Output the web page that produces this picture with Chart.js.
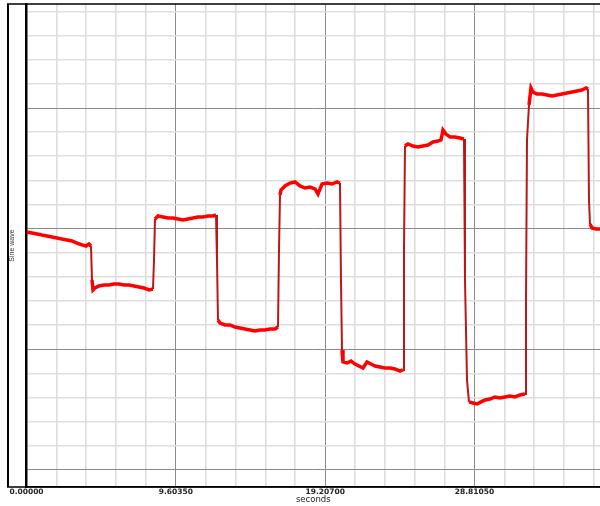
<!DOCTYPE html>
<html>
<head>
<meta charset="utf-8">
<script src="https://cdn.jsdelivr.net/npm/chart.js@4/dist/chart.umd.min.js"></script>
<style>
  html, body { margin: 0; padding: 0; background: #fff; }
  #wrap { width: 600px; height: 506px; position: relative; }
</style>
</head>
<body>
<div id="wrap"><canvas id="c"></canvas></div>
<script>
// ---- data ----
const seconds = [
  0, 0.354, 0.675, 0.997, 1.318, 1.640, 1.961, 2.283, 2.605, 2.926, 3.248, 3.569, 3.826, 4.019, 4.148,
  4.212, 4.277,
  4.405, 4.662, 4.984, 5.306, 5.627, 5.949, 6.270, 6.592, 6.913, 7.235, 7.556, 7.878, 8.135,
  8.200, 8.264,
  8.457, 8.778, 9.100, 9.421, 9.743, 10.065, 10.386, 10.708, 11.029, 11.351, 11.672, 11.994, 12.187,
  12.251, 12.315,
  12.444, 12.766, 13.087, 13.409, 13.730, 14.052, 14.373, 14.695, 15.016, 15.338, 15.659, 15.981, 16.174,
  16.238, 16.303, 16.367,
  16.624, 16.946, 17.267, 17.589, 17.910, 18.232, 18.553, 18.746, 19.004, 19.325, 19.647, 19.968, 20.161,
  20.225, 20.290, 20.354,
  20.611, 20.869, 21.126, 21.383, 21.640, 21.898, 22.155, 22.412, 22.734, 23.055, 23.377, 23.698, 24.020, 24.213,
  24.277, 24.341,
  24.534, 24.856, 25.177, 25.499, 25.820, 26.142, 26.464, 26.657, 26.785, 26.978, 27.235, 27.557, 27.878, 28.136,
  28.200, 28.329, 28.457,
  28.714, 28.972, 29.229, 29.486, 29.808, 30.129, 30.451, 30.772, 31.094, 31.415, 31.737, 32.059,
  32.123, 32.187, 32.316, 32.444,
  32.573, 32.830, 33.152, 33.473, 33.795, 34.116, 34.438, 34.759, 35.081, 35.403, 35.724, 35.981, 36.110,
  36.174, 36.239, 36.367,
  36.624, 36.882
];
const sineWave = [
  1.972, 1.964, 1.956, 1.947, 1.939, 1.931, 1.923, 1.914, 1.906, 1.898, 1.881, 1.865, 1.856, 1.873, 1.856,
  1.575, 1.492,
  1.508, 1.525, 1.533, 1.533, 1.541, 1.541, 1.533, 1.533, 1.525, 1.517, 1.508, 1.492, 1.500,
  1.740, 2.080,
  2.105, 2.097, 2.088, 2.088, 2.080, 2.072, 2.080, 2.088, 2.097, 2.097, 2.105, 2.105, 2.113,
  1.740, 1.243,
  1.218, 1.202, 1.202, 1.185, 1.177, 1.168, 1.160, 1.152, 1.160, 1.160, 1.168, 1.168, 1.185,
  1.823, 2.279, 2.320,
  2.354, 2.378, 2.387, 2.354, 2.337, 2.345, 2.329, 2.287, 2.370, 2.378, 2.370, 2.387, 2.378,
  1.575, 0.994, 0.895,
  0.887, 0.903, 0.878, 0.862, 0.845, 0.895, 0.878, 0.862, 0.854, 0.845, 0.845, 0.837, 0.820, 0.829,
  1.823, 2.685,
  2.702, 2.685, 2.677, 2.685, 2.693, 2.718, 2.726, 2.735, 2.818, 2.784, 2.760, 2.760, 2.751, 2.743,
  1.575, 0.746, 0.564,
  0.555, 0.547, 0.564, 0.580, 0.588, 0.605, 0.597, 0.605, 0.613, 0.605, 0.622, 0.630,
  1.409, 2.735, 3.025, 3.166,
  3.132, 3.116, 3.116, 3.108, 3.099, 3.108, 3.116, 3.124, 3.132, 3.141, 3.149, 3.166, 3.157,
  2.238, 2.039, 2.005,
  1.997, 1.997
];
const xMajorTicks = [0, 9.6035, 19.207, 28.8105];
const xMinorPerMajor = 5;
const xRange = [0, 36.882];
const yMajorTicks = [0, 1, 2, 3];
const yMinorPerMajor = 5;
const yRange = [-0.141, 3.862];
const xTitle = 'seconds';
const yTitle = 'Sine wave';

const points = seconds.map((t, i) => ({ x: t, y: sineWave[i] }));

const xStep = (xMajorTicks[1] - xMajorTicks[0]) / xMinorPerMajor;
const yStep = (yMajorTicks[1] - yMajorTicks[0]) / yMinorPerMajor;

const frame = {
  id: 'frame',
  afterDraw(chart) {
    const ctx = chart.ctx, a = chart.chartArea;
    ctx.save();
    ctx.strokeStyle = '#000';
    ctx.lineWidth = 2;
    ctx.beginPath();
    ctx.moveTo(8, 4); ctx.lineTo(8, a.bottom);
    ctx.stroke();
    ctx.lineWidth = 1.5;
    ctx.beginPath();
    ctx.moveTo(7, 4); ctx.lineTo(600, 4);
    ctx.moveTo(7, a.bottom); ctx.lineTo(600, a.bottom);
    ctx.stroke();
    ctx.restore();
  }
};

new Chart(document.getElementById('c'), {
  type: 'line',
  data: {
    datasets: [{
      data: points,
      borderColor: '#ff0000',
      borderWidth: 3.5,
      borderJoinStyle: 'miter',
      pointRadius: 0,
      tension: 0,
      segment: {
        borderColor: c => Math.abs(c.p1.parsed.y - c.p0.parsed.y) > 0.15 ? '#b81818' : undefined,
        borderWidth: c => Math.abs(c.p1.parsed.y - c.p0.parsed.y) > 0.15 ? 2 : undefined
      }
    }]
  },
  options: {
    responsive: true,
    maintainAspectRatio: false,
    animation: false,
    layout: { padding: { left: 7, top: 4, right: 0, bottom: 0 } },
    plugins: { legend: { display: false }, tooltip: { enabled: false } },
    scales: {
      x: {
        type: 'linear',
        min: xRange[0], max: xRange[1],
        afterBuildTicks: s => {
          const t = [];
          for (let i = 0; xRange[0] + i * xStep <= xRange[1]; i++) t.push({ value: xRange[0] + i * xStep });
          s.ticks = t;
        },
        afterFit: s => { s.height = 19; },
        ticks: {
          autoSkip: false, maxRotation: 0, padding: 1,
          font: { family: 'DejaVu Sans', size: 7.5, weight: 'bold' },
          color: '#222',
          callback: (v, i) => (i % xMinorPerMajor === 0 ? Number(v).toFixed(5) : '')
        },
        grid: {
          drawTicks: false,
          color: c => (c.index % xMinorPerMajor === 0 ? '#8a8a8a' : '#dedede'),
          lineWidth: c => (c.index % xMinorPerMajor === 0 ? 1 : 1.6)
        },
        border: { display: true, color: '#000', width: 1.5 },
        title: {
          display: true, text: xTitle, color: '#222',
          font: { family: 'DejaVu Sans', size: 8.5 },
          padding: { top: 0, bottom: 1.5 }
        }
      },
      y: {
        type: 'linear',
        min: yRange[0], max: yRange[1],
        afterBuildTicks: s => {
          const t = [];
          for (let i = 0; yMajorTicks[0] + i * yStep <= yRange[1]; i++) t.push({ value: yMajorTicks[0] + i * yStep });
          s.ticks = t;
        },
        afterFit: s => { s.width = 19.5; },
        ticks: { display: false },
        grid: {
          drawTicks: false,
          color: c => (c.index % yMinorPerMajor === 0 ? '#8a8a8a' : '#dedede'),
          lineWidth: c => (c.index % yMinorPerMajor === 0 ? 1 : 1.6)
        },
        border: { display: true, color: '#000', width: 2.5 },
        title: {
          display: true, text: yTitle, color: '#333',
          font: { family: 'Liberation Sans', size: 7 },
          padding: { top: 1, bottom: 0 }
        }
      }
    }
  },
  plugins: [frame]
});
</script>
</body>
</html>
